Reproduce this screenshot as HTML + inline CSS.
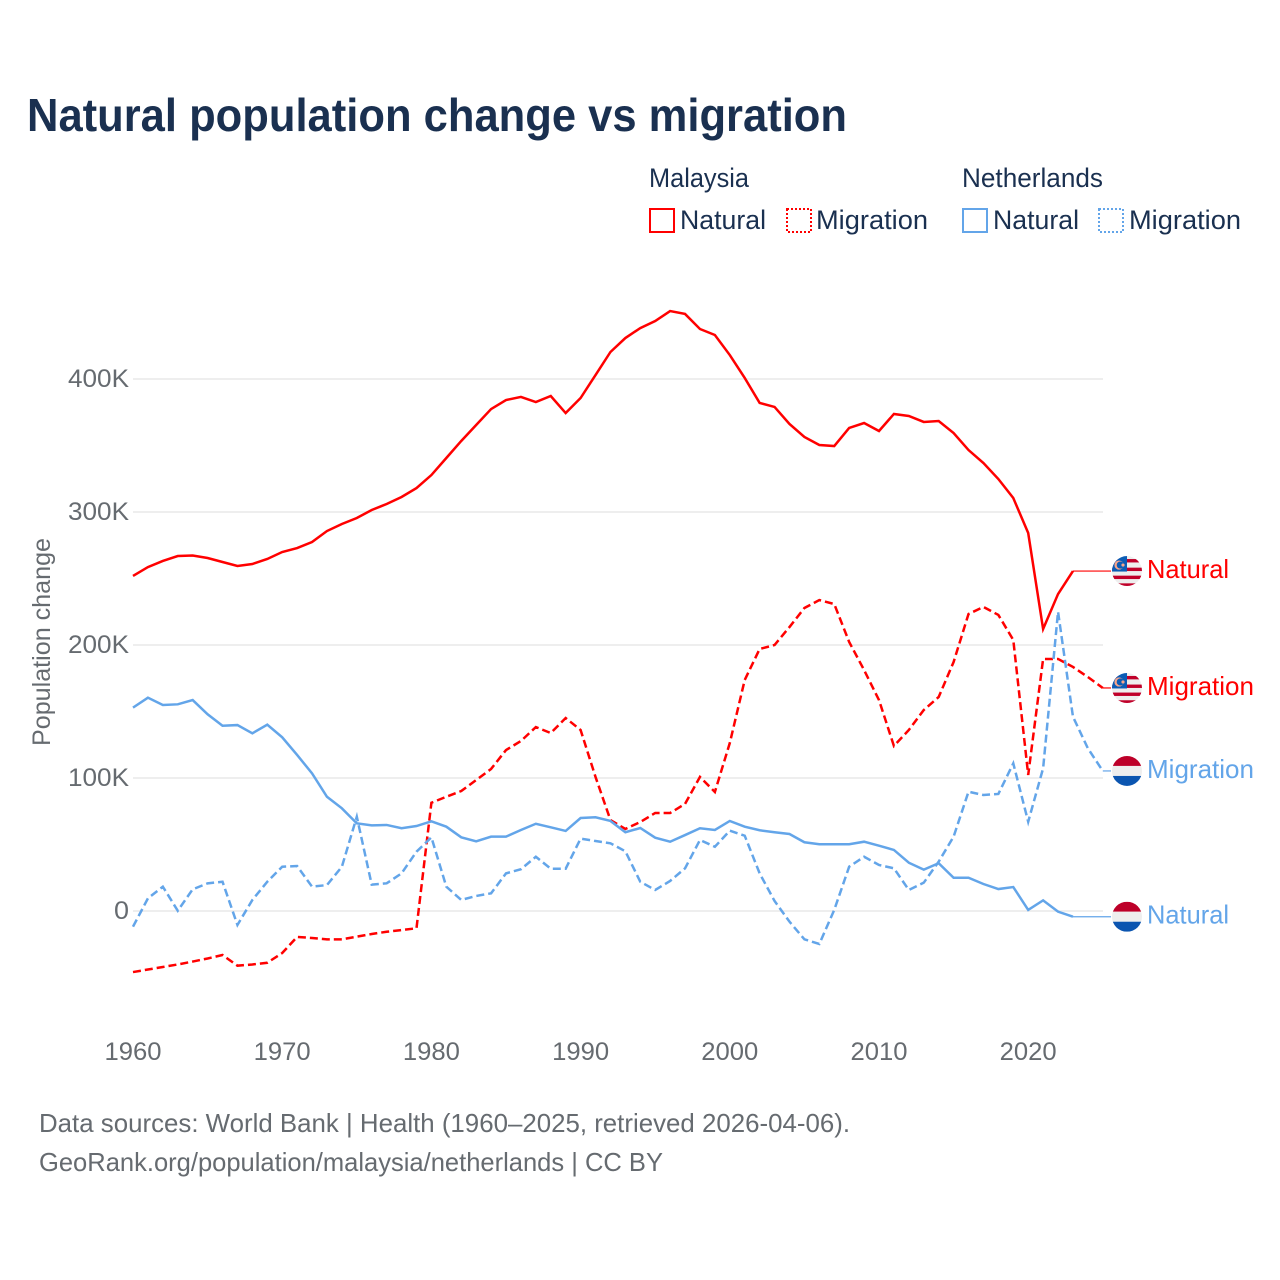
<!DOCTYPE html>
<html lang="en">
<head>
<meta charset="utf-8">
<title>Natural population change vs migration</title>
<style>
html,body{margin:0;padding:0;background:#fff;width:1280px;height:1280px;overflow:hidden}
svg{display:block}
text{font-family:"Liberation Sans",sans-serif}
</style>
</head>
<body>
<svg id="chart" xmlns="http://www.w3.org/2000/svg" width="1280" height="1280" viewBox="0 0 1280 1280">
  <defs>
    <clipPath id="flag-clip"><circle cx="0" cy="0" r="15"/></clipPath>
  </defs>
  <rect width="1280" height="1280" fill="#fff"/>
  <text x="27" y="131" font-size="46" font-weight="700" fill="#1a3050" textLength="820" lengthAdjust="spacingAndGlyphs">Natural population change vs migration</text>

  <g font-size="27" fill="#1a3050">
    <text x="649" y="187" textLength="100" lengthAdjust="spacingAndGlyphs">Malaysia</text>
    <text x="962" y="187" textLength="141" lengthAdjust="spacingAndGlyphs">Netherlands</text>
    <rect x="650" y="209" width="24" height="23" fill="none" stroke="#ff0000" stroke-width="2"/>
    <text x="680" y="229" textLength="86" lengthAdjust="spacingAndGlyphs">Natural</text>
    <rect x="787" y="209" width="24" height="23" fill="none" stroke="#ff0000" stroke-width="2" stroke-dasharray="2 2"/>
    <text x="816" y="229" textLength="112" lengthAdjust="spacingAndGlyphs">Migration</text>
    <rect x="963" y="209" width="24" height="23" fill="none" stroke="#63a5e9" stroke-width="2"/>
    <text x="993" y="229" textLength="86" lengthAdjust="spacingAndGlyphs">Natural</text>
    <rect x="1099" y="209" width="24" height="23" fill="none" stroke="#63a5e9" stroke-width="2" stroke-dasharray="2 2"/>
    <text x="1129" y="229" textLength="112" lengthAdjust="spacingAndGlyphs">Migration</text>
  </g>

  <g id="grid"></g>
  <g id="y-ticks"></g>
  <g id="x-ticks"></g>
  <text transform="translate(50 746) rotate(-90)" font-size="25" fill="#666b70" textLength="208" lengthAdjust="spacingAndGlyphs">Population change</text>
  <g id="series"></g>
  <g id="end-labels"></g>

  <text x="39" y="1132" font-size="26" fill="#666b70" textLength="811" lengthAdjust="spacingAndGlyphs">Data sources: World Bank | Health (1960–2025, retrieved 2026-04-06).</text>
  <text x="39" y="1171" font-size="26" fill="#666b70" textLength="624" lengthAdjust="spacingAndGlyphs">GeoRank.org/population/malaysia/netherlands | CC BY</text>
</svg>
<script>
const years = [1960,1961,1962,1963,1964,1965,1966,1967,1968,1969,1970,1971,1972,1973,1974,1975,1976,1977,1978,1979,1980,1981,1982,1983,1984,1985,1986,1987,1988,1989,1990,1991,1992,1993,1994,1995,1996,1997,1998,1999,2000,2001,2002,2003,2004,2005,2006,2007,2008,2009,2010,2011,2012,2013,2014,2015,2016,2017,2018,2019,2020,2021,2022,2023,2024,2025];
const malaysiaNatural = [251.9,258.6,263.2,266.9,267.3,265.4,262.4,259.4,260.9,264.7,269.9,272.9,277.4,285.7,291,295.5,301.5,306,311.3,318,327.8,340.6,353.4,365.4,377.4,384.2,386.5,382.7,387.2,374.4,385.7,403,420.3,430.8,438.3,443.6,451.1,448.9,437.6,433.1,418,400.8,382,379,366.2,356.4,350.4,349.6,363.2,366.9,360.9,373.7,372.2,367.7,368.4,359.4,346.6,336.8,324.8,310.5,284.2,212,238.3,255.6];
const malaysiaMigration = [-45.9,-44,-42.1,-40.2,-38,-35.7,-33.1,-41.1,-40.2,-38.9,-31.6,-19.5,-20.3,-21.3,-21.3,-19.3,-17.3,-15.6,-14.3,-13,81.4,85.9,90.2,98.5,106.8,121,127.8,138.3,133.8,145.1,136.1,100.8,68.4,61.7,66.9,73.7,73.7,80.5,100.8,89.5,126.3,173.7,197,200,213.5,227.8,233.8,230.8,202.3,181.2,158.6,124.1,136.1,151.1,160.9,187.2,223.3,228.6,222.6,203.8,102.3,189.5,189.5,183.5,175.9,167.7];
const netherlandsNatural = [152.9,160.4,154.9,155.4,158.6,147.9,139.3,139.8,133.6,140.1,130.6,117.3,103.5,85.9,77.2,65.9,64.4,64.7,62.2,63.9,67.4,63.4,55.4,52.4,55.9,55.9,60.9,65.6,62.9,60.2,69.9,70.5,67.7,59.2,62.4,55.1,52.1,57.1,62.2,60.9,67.7,63.4,60.7,59.2,57.9,51.7,50.2,50.2,50.2,52.1,49.1,45.9,36.3,31.1,35.9,25,25,20.3,16.5,18,0.8,8,-0.5,-4.3];
const netherlandsMigration = [-11.8,9.5,18.3,0.2,16.3,20.8,22,-10.5,8.3,22,33.3,33.8,18.3,19.5,33.3,70.9,19.8,20.8,28.3,44.6,55.4,18.3,8.3,11.3,13.3,28.3,31.4,40.8,31.8,31.8,54.4,52.6,50.9,44.9,22,15.8,22.6,32.1,53.4,48.3,60.4,56.6,28.3,7.5,-8,-21.3,-24.8,0.8,33.3,40.8,34.6,32.1,15.8,21.3,37.1,55.9,89.7,87.2,88,111,67.1,107.3,225,146.1,122.3,105.3];
const yTickValues = [0,100,200,300,400];
const yTickLabels = ["0","100K","200K","300K","400K"];
const xTickValues = [1960,1970,1980,1990,2000,2010,2020];
const xTickLabels = ["1960","1970","1980","1990","2000","2010","2020"];

const RED = '#ff0000';
const BLUE = '#63a5e9';
const GRAY = '#666b70';
const NS = 'http://www.w3.org/2000/svg';

function xScale(year){ return 133 + (year - 1960) * 14.92; }
function yScale(k){ return 911 - k * 1.33; }

function make(tag, attrs, parent){
  const el = document.createElementNS(NS, tag);
  for (const k in attrs) el.setAttribute(k, attrs[k]);
  parent.appendChild(el);
  return el;
}

const gridG = document.getElementById('grid');
const yG = document.getElementById('y-ticks');
yTickValues.forEach(function(v, i){
  const line = make('line', {x1: xScale(1960), x2: 1103, y1: yScale(v), y2: yScale(v), stroke: '#eeeeee', 'stroke-width': 2}, gridG);
  
  
  const t = make('text', {x: 129, y: yScale(v) + 8, 'text-anchor': 'end', 'font-size': 25, fill: GRAY, textLength: v === 0 ? 15 : 61, lengthAdjust: 'spacingAndGlyphs'}, yG);
  t.textContent = yTickLabels[i];
  
  
});

const xG = document.getElementById('x-ticks');
xTickValues.forEach(function(v, i){
  const t = make('text', {x: xScale(v), y: 1060, 'text-anchor': 'middle', 'font-size': 25, fill: GRAY, textLength: 57, lengthAdjust: 'spacingAndGlyphs'}, xG);
  t.textContent = xTickLabels[i];
  
  
});

function linePath(values){
  return values.map(function(v, i){
    return (i ? 'L' : 'M') + xScale(years[i]).toFixed(2) + ' ' + yScale(v).toFixed(2);
  }).join('');
}

const seriesG = document.getElementById('series');

const lineMyNatural = make('path', {d: linePath(malaysiaNatural), fill: 'none', stroke: RED, 'stroke-width': 2.5}, seriesG);



const lineMyMigration = make('path', {d: linePath(malaysiaMigration), fill: 'none', stroke: RED, 'stroke-width': 2.5, 'stroke-dasharray': '8 4'}, seriesG);



const lineNlNatural = make('path', {d: linePath(netherlandsNatural), fill: 'none', stroke: BLUE, 'stroke-width': 2.5}, seriesG);



const lineNlMigration = make('path', {d: linePath(netherlandsMigration), fill: 'none', stroke: BLUE, 'stroke-width': 2.5, 'stroke-dasharray': '8 4'}, seriesG);



function malaysiaFlag(g){
  make('circle', {r: 15, fill: '#eeeeee'}, g);
  make('rect', {x: -15, y: -12, width: 30, height: 3.4, fill: '#c0002a'}, g);
  make('rect', {x: -15, y: -3.4, width: 30, height: 3.4, fill: '#c0002a'}, g);
  make('rect', {x: -15, y: 4.6, width: 30, height: 3.4, fill: '#c0002a'}, g);
  make('rect', {x: -15, y: 12.3, width: 30, height: 3, fill: '#c0002a'}, g);
  make('rect', {x: -15, y: -15, width: 15, height: 15.5, fill: '#0b5cb5'}, g);
  make('circle', {cx: -8, cy: -6, r: 4.6, fill: '#f9a58a'}, g);
  make('circle', {cx: -6.7, cy: -6, r: 3.6, fill: '#0b5cb5'}, g);
  make('circle', {cx: -4, cy: -6, r: 1.6, fill: '#f9a58a'}, g);
}
function netherlandsFlag(g){
  make('rect', {x: -15, y: -15, width: 30, height: 10, fill: '#bd0029'}, g);
  make('rect', {x: -15, y: -5, width: 30, height: 10, fill: '#eeeeee'}, g);
  make('rect', {x: -15, y: 5, width: 30, height: 10, fill: '#0b55b0'}, g);
}

function endLabel(values, text, color, drawFlag, labelWidth){
  const lastIndex = values.length - 1;
  const y = yScale(values[lastIndex]);
  const root = document.getElementById('end-labels');
  const conn = make('line', {x1: xScale(years[lastIndex]), x2: 1111, y1: y, y2: y, stroke: color, 'stroke-width': 1.2}, root);
  
  
  const flag = make('g', {transform: 'translate(1127 ' + y + ')', 'clip-path': 'url(#flag-clip)'}, root);
  
  
  drawFlag(flag);
  const t = make('text', {x: 1147, y: y + 7, 'font-size': 26, fill: color, textLength: labelWidth, lengthAdjust: 'spacingAndGlyphs'}, root);
  t.textContent = text;
  
  
}

endLabel(malaysiaNatural, 'Natural', RED, malaysiaFlag, 82);
endLabel(malaysiaMigration, 'Migration', RED, malaysiaFlag, 107);
endLabel(netherlandsMigration, 'Migration', BLUE, netherlandsFlag, 107);
endLabel(netherlandsNatural, 'Natural', BLUE, netherlandsFlag, 82);
</script>
</body>
</html>
